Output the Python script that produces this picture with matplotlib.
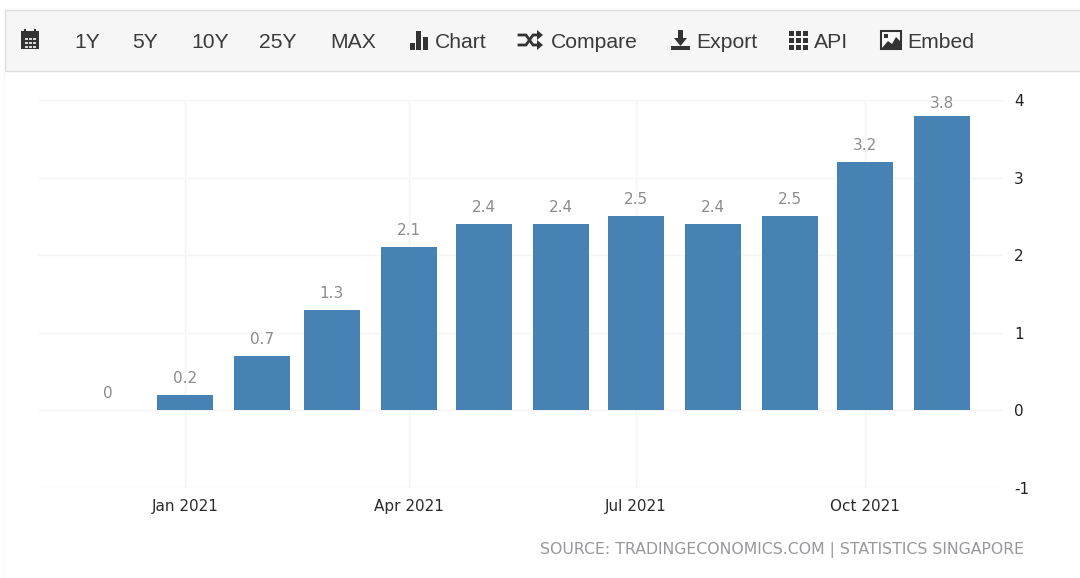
import matplotlib
matplotlib.use('Agg')
import matplotlib.pyplot as plt
import matplotlib.dates as mdates
from matplotlib.patches import Rectangle, Polygon
from datetime import datetime, timedelta

W, H = 1080, 578

months = ['2020-12-01', '2021-01-01', '2021-02-01', '2021-03-01', '2021-04-01', '2021-05-01',
          '2021-06-01', '2021-07-01', '2021-08-01', '2021-09-01', '2021-10-01', '2021-11-01']
values = [0, 0.2, 0.7, 1.3, 2.1, 2.4, 2.4, 2.5, 2.4, 2.5, 3.2, 3.8]
value_labels = ['0', '0.2', '0.7', '1.3', '2.1', '2.4', '2.4', '2.5', '2.4', '2.5', '3.2', '3.8']
y_ticks = [-1, 0, 1, 2, 3, 4]
x_ticks = ['2021-01-01', '2021-04-01', '2021-07-01', '2021-10-01']
x_tick_labels = ['Jan 2021', 'Apr 2021', 'Jul 2021', 'Oct 2021']
menu_labels = ['1Y', '5Y', '10Y', '25Y', 'MAX', 'Chart', 'Compare', 'Export', 'API', 'Embed']
menu_x = [74, 132, 191, 259, 330, 435, 551, 696, 814, 907]
source = 'SOURCE: TRADINGECONOMICS.COM | STATISTICS SINGAPORE'

BAR = '#4682b4'
GRID = '#f4f4f7'
CHART_FONT = 'DejaVu Sans'
MENU_FONT = 'Liberation Sans'
ICON = '#333333'

dates = [datetime.strptime(d, '%Y-%m-%d') for d in months]
tick_dates = [datetime.strptime(d, '%Y-%m-%d') for d in x_ticks]

fig = plt.figure(figsize=(W / 100, H / 100), dpi=100, facecolor='white')

# overlay in pixel coords for the toolbar
bg = fig.add_axes([0, 0, 1, 1])
bg.set_xlim(0, W)
bg.set_ylim(H, 0)
bg.axis('off')
bg.add_patch(Rectangle((5, 10), W, 61, facecolor='#f6f6f7', edgecolor='#dedede', lw=1))
bg.plot([4, 4], [71, H], color='#f8f8f8', lw=1)

for label, x in zip(menu_labels, menu_x):
    bg.text(x, 42.5, label, family=MENU_FONT, fontsize=15.2, color='#3a3a3a', va='center', ha='left')

# calendar icon
bg.add_patch(Rectangle((21, 31), 18, 18, facecolor=ICON, edgecolor='none'))
for gx in (25, 29, 33):
    for gy in (38, 42, 45.5):
        bg.add_patch(Rectangle((gx, gy), 2.6, 2.2, facecolor='#d8d8d8', edgecolor='none'))
bg.add_patch(Rectangle((24, 29), 2, 4, facecolor=ICON, edgecolor='none'))
bg.add_patch(Rectangle((34, 29), 2, 4, facecolor=ICON, edgecolor='none'))

# chart icon
for x0, top in ((410, 43), (416, 31), (423, 37)):
    bg.add_patch(Rectangle((x0, top), 5, 50 - top, facecolor=ICON, edgecolor='none'))

# shuffle icon
bg.plot([519, 526, 533, 538], [35, 35, 45, 45], color=ICON, lw=2)
bg.plot([519, 526, 533, 538], [45, 45, 35, 35], color=ICON, lw=2)
bg.add_patch(Polygon([(537, 30), (543, 35), (537, 40)], facecolor=ICON))
bg.add_patch(Polygon([(537, 40), (543, 45), (537, 50)], facecolor=ICON))

# export icon
bg.add_patch(Rectangle((678, 30), 5, 9, facecolor=ICON))
bg.add_patch(Polygon([(674, 38), (687, 38), (680.5, 46)], facecolor=ICON))
bg.add_patch(Rectangle((671, 46), 19, 4, facecolor=ICON))

# api icon
for gx in (789, 796, 803):
    for gy in (31, 38, 45):
        bg.add_patch(Rectangle((gx, gy), 5, 5, facecolor=ICON))

# embed icon
bg.add_patch(Rectangle((881, 31), 20, 18, facecolor='#fafafa', edgecolor=ICON, lw=1.5))
bg.add_patch(Polygon([(882, 48), (888, 41), (892, 44), (896, 37), (900, 41), (900, 48)], facecolor=ICON))
bg.add_patch(Rectangle((884, 34), 3.5, 3.5, facecolor=ICON))

# chart area, y=4 at px 100 and y=-1 at px 488
ax = fig.add_axes([38 / W, 1 - 488 / H, (1003 - 38) / W, (488 - 100) / H])
ax.patch.set_alpha(0)
px_per_day = 2.49
ax.set_xlim(tick_dates[0] - timedelta(days=147 / px_per_day),
            tick_dates[0] + timedelta(days=818 / px_per_day))
ax.set_ylim(-1, 4)

ax.bar(dates, values, width=22.5, color=BAR, zorder=3, linewidth=0)
for d, v, lab in zip(dates, values, value_labels):
    # the tallest label gets squeezed down to stay inside the plot
    off = 5 if v > 3.5 else 9
    ax.annotate(lab, (mdates.date2num(d), v), xytext=(0, off), textcoords='offset pixels',
                ha='center', va='bottom', family=CHART_FONT, fontsize=11, color='#8c8c8c')

ax.set_yticks(y_ticks)
ax.set_xticks(tick_dates)
ax.set_xticklabels(x_tick_labels, family=CHART_FONT, fontsize=11, color='#2b2b2b')
ax.yaxis.tick_right()
ax.set_yticklabels([str(t) for t in y_ticks], family=CHART_FONT, fontsize=11, color='#222222')
ax.tick_params(axis='both', length=0)
ax.tick_params(axis='x', pad=8)
ax.tick_params(axis='y', pad=8)
ax.grid(True, color=GRID, lw=1, zorder=0)
ax.set_axisbelow(True)
for s in ax.spines.values():
    s.set_visible(False)

fig.text(1024 / W, 1 - 550 / H, source, ha='right', va='center', family=CHART_FONT,
         fontsize=11.35, color='#98989c')

fig.savefig('out.png', dpi=100)
